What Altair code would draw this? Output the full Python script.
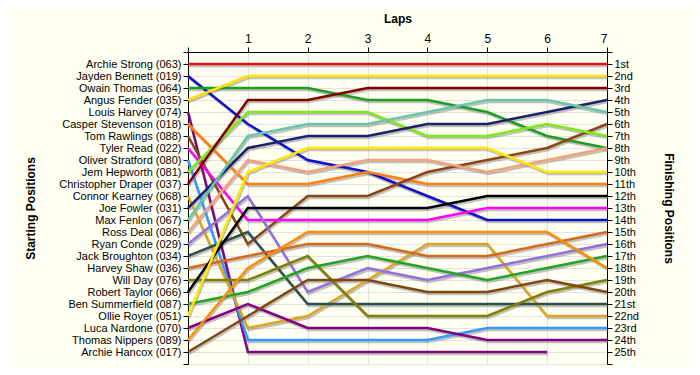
import altair as alt
import pandas as pd

names = [
    "Archie Strong (063)", "Jayden Bennett (019)", "Owain Thomas (064)", "Angus Fender (035)",
    "Louis Harvey (074)", "Casper Stevenson (018)", "Tom Rawlings (088)", "Tyler Read (022)",
    "Oliver Stratford (080)", "Jem Hepworth (081)", "Christopher Draper (037)", "Connor Kearney (068)",
    "Joe Fowler (031)", "Max Fenlon (067)", "Ross Deal (086)", "Ryan Conde (029)",
    "Jack Broughton (034)", "Harvey Shaw (036)", "Will Day (076)", "Robert Taylor (066)",
    "Ben Summerfield (087)", "Ollie Royer (051)", "Luca Nardone (070)", "Thomas Nippers (089)",
    "Archie Hancox (017)",
]

laps = [0, 1, 2, 3, 4, 5, 6, 7]

# position of each driver at laps 0..7 (None = retired)
positions = [
    [1, 1, 1, 1, 1, 1, 1, 1],
    [2, 6, 9, 10, 12, 14, 14, 14],
    [3, 3, 3, 4, 4, 5, 7, 8],
    [4, 2, 2, 2, 2, 2, 2, 2],
    [5, 25, 25, 25, 25, 25, 25, None],
    [6, 11, 11, 10, 11, 11, 11, 11],
    [7, 16, 12, 12, 10, 9, 8, 6],
    [8, 14, 14, 14, 14, 13, 13, 13],
    [9, 24, 24, 24, 24, 23, 23, 23],
    [10, 5, 5, 5, 7, 7, 6, 7],
    [11, 4, 4, 3, 3, 3, 3, 3],
    [12, 23, 22, 19, 16, 16, 22, 22],
    [13, 8, 7, 7, 6, 6, 5, 4],
    [14, 7, 6, 6, 5, 4, 4, 5],
    [15, 9, 10, 9, 9, 10, 9, 8],
    [16, 12, 20, 18, 19, 18, 17, 16],
    [17, 15, 21, 21, 21, 21, 21, 21],
    [18, 17, 16, 16, 17, 17, 16, 15],
    [19, 19, 17, 22, 22, 22, 20, 19],
    [20, 13, 13, 13, 13, 12, 12, 12],
    [21, 20, 18, 17, 18, 19, 18, 17],
    [22, 10, 8, 8, 8, 8, 10, 10],
    [23, 21, 23, 23, 23, 24, 24, 24],
    [24, 18, 15, 15, 15, 15, 15, 18],
    [25, 22, 19, 19, 20, 20, 19, 20],
]

colors = [
    "#EE1111", "#1010CC", "#1E9E1E", "#FFE000",
    "#7A0A7A", "#FF7F0E", "#8B4513", "#FF00FF",
    "#3399FF", "#7FE81A", "#800000", "#DAA520",
    "#1E1E6E", "#66C8AA", "#F4A07A", "#9370DB",
    "#2F4F4F", "#D2691E", "#808000", "#000000",
    "#22A322", "#FFE800", "#800080", "#FF8C00",
    "#7F4512",
]

ordinal = ["", "1st", "2nd", "3rd"] + [f"{i}th" for i in range(4, 21)] + ["21st", "22nd", "23rd", "24th", "25th", ""]

rows = []
for name, pos in zip(names, positions):
    for lap, p in zip(laps, pos):
        if p is not None:
            rows.append({"driver": name, "lap": lap, "pos": p})
df = pd.DataFrame(rows)

left_labels = [""] + names + [""]
left_expr = "[" + ",".join("'" + s + "'" for s in left_labels) + "][datum.value]"
right_expr = "[" + ",".join("'" + s + "'" for s in ordinal) + "][datum.value]"

FONT = "Liberation Sans"
W, H = 419, 312

x_enc = alt.X(
    "lap:Q",
    scale=alt.Scale(domain=[0, 7], nice=False, zero=False),
    axis=alt.Axis(
        orient="top", values=laps, labelExpr="datum.value == 0 ? '' : datum.label",
        title="Laps", titleX=W / 2, titleY=-34, titleBaseline="middle", titleAlign="center",
        grid=True, gridColor="#e2e2e2", domainColor="black", tickColor="black",
        tickSize=5, labelPadding=2, labelFont=FONT, labelFontSize=12, labelColor="black",
        titleFont=FONT, titleFontSize=12, titleFontWeight="bold", titleColor="black",
    ),
)

y_scale = alt.Scale(domain=[0, 26], reverse=True, nice=False, zero=False)

shadow = alt.Chart(df).mark_line(
    strokeWidth=2.5, color="#777777", opacity=0.45, yOffset=2, xOffset=1
).encode(
    x=x_enc,
    y=alt.Y(
        "pos:Q", scale=y_scale,
        axis=alt.Axis(
            orient="left", values=list(range(27)), labelExpr=left_expr,
            title="Starting Positions", titleX=-158, titleY=H / 2, titleAngle=-90,
            titleAlign="center", titleBaseline="middle",
            grid=True, gridColor="#e2e2e2", domainColor="black", tickColor="black",
            tickSize=5, labelPadding=2, labelFont=FONT, labelFontSize=11, labelColor="black",
            titleFont=FONT, titleFontSize=12, titleFontWeight="bold", titleColor="black",
            labelOverlap=False,
        ),
    ),
    detail="driver:N",
)

lines = alt.Chart(df).mark_line(strokeWidth=2.5).encode(
    x=x_enc,
    y=alt.Y(
        "pos:Q", scale=y_scale,
        axis=alt.Axis(
            orient="right", values=list(range(27)), labelExpr=right_expr,
            title="Finishing Positions", titleX=61, titleY=H / 2, titleAngle=90,
            titleAlign="center", titleBaseline="middle",
            grid=False, domainColor="black", tickColor="black",
            tickSize=5, labelPadding=2, labelFont=FONT, labelFontSize=11, labelColor="black",
            titleFont=FONT, titleFontSize=12, titleFontWeight="bold", titleColor="black",
            labelOverlap=False,
        ),
    ),
    color=alt.Color("driver:N", scale=alt.Scale(domain=names, range=colors), legend=None),
)

chart = alt.layer(shadow, lines).resolve_axis(y="independent").properties(
    width=W, height=H,
    background="#FFFFF2",
    autosize=alt.AutoSizeParams(type="none"),
    padding={"left": 180, "top": 44, "right": 85, "bottom": 3},
).configure_view(strokeWidth=0)

chart.save("out.html", embed_options={"renderer": "svg", "actions": False})
